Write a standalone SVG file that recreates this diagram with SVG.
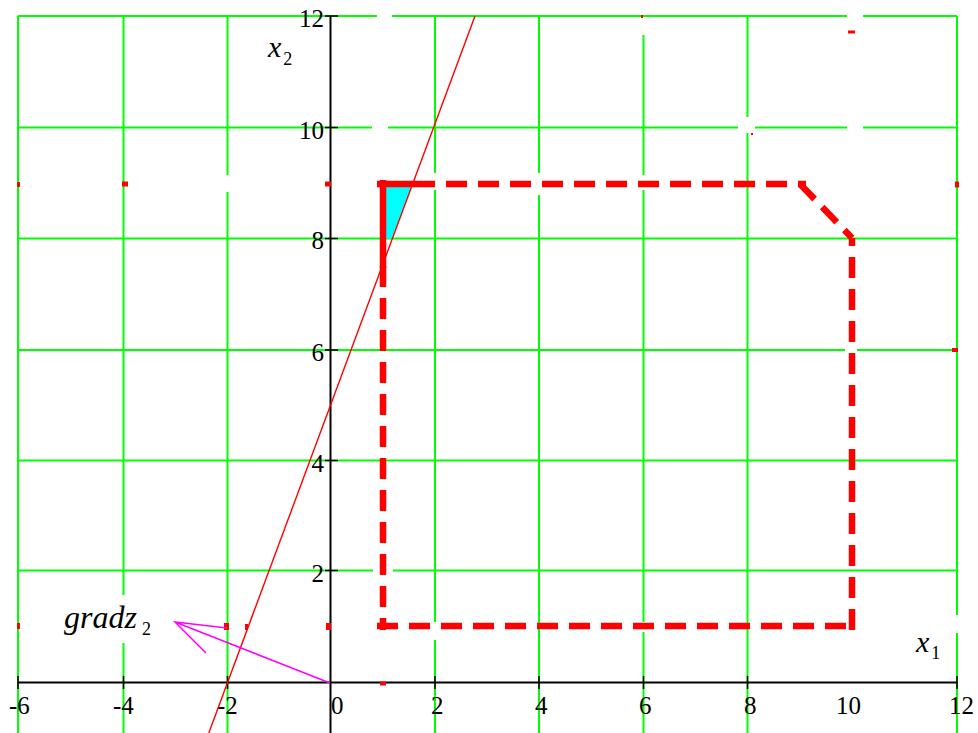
<svg xmlns="http://www.w3.org/2000/svg" width="978" height="733" viewBox="0 0 978 733">
<style>
.grid{stroke:#00ff00;stroke-width:2;fill:none}
.axis{stroke:#000;stroke-width:2;fill:none}
.tick{stroke:#000;stroke-width:1.5;fill:none}
.bound{stroke:#ff0000;stroke-width:6.5;fill:none;stroke-dasharray:21 11}
.solid{stroke:#ff0000;stroke-width:6.5;fill:none}
.thin{stroke:#ff0000;stroke-width:1.4;fill:none}
.grad{stroke:#ff00ff;stroke-width:1.5;fill:none}
.mark{fill:#ff0000}
.num{font-family:"Liberation Serif",serif;font-size:25px;fill:#000}
.var{font-family:"Liberation Serif",serif;font-size:30px;font-style:italic;fill:#000}
.sub{font-family:"Liberation Serif",serif;font-size:18px;font-style:normal}
</style>
<rect width="978" height="733" fill="#fff"/>
<g id="grid">
<path class="grid" d="M18,16V733 M123.5,16V595 M123.5,643V733 M227.5,16V175 M227.5,192V733 M435,16V173 M435,190V622 M435,640V733 M539,16V173 M539,195V733 M643.5,35V175 M643.5,190V622 M643.5,632V733 M747.5,16V117 M747.5,133V733 M957,16V615 M957,633V733"/>
<path class="grid" d="M18,16H377 M392,16H847 M863,16H957 M18,127.5H372 M388,127.5H738 M755,127.5H847 M863,127.5H957 M18,238.5H957 M18,350H845 M857,350H957 M18,460.5H957 M18,570.5H373 M393,570.5H957"/>
</g>
<g id="axes">
<path class="axis" d="M18,682.5H957 M330.5,16V733"/>
<path class="tick" d="M18,676V689 M123.5,676V689 M227.5,676V689 M435,676V689 M539,676V689 M643.5,676V689 M747.5,676V689 M957,676V689 M325,16H338 M325,127.5H338 M325,238.5H338 M325,350H338 M325,460.5H338 M325,570.5H338"/>
<text class="num" x="9" y="714">-6</text>
<text class="num" x="113" y="714">-4</text>
<text class="num" x="217" y="714">-2</text>
<text class="num" x="331" y="714">0</text>
<text class="num" x="431" y="714">2</text>
<text class="num" x="535" y="714">4</text>
<text class="num" x="639" y="714">6</text>
<text class="num" x="744" y="714">8</text>
<text class="num" x="836" y="714">10</text>
<text class="num" x="949" y="714">12</text>
<text class="num" x="324" y="27" text-anchor="end">12</text>
<text class="num" x="324" y="139" text-anchor="end">10</text>
<text class="num" x="324" y="249" text-anchor="end">8</text>
<text class="num" x="324" y="361" text-anchor="end">6</text>
<text class="num" x="324" y="472" text-anchor="end">4</text>
<text class="num" x="324" y="582" text-anchor="end">2</text>
</g>
<g id="marks">
<rect class="mark" x="17" y="182" width="3" height="5"/>
<rect class="mark" x="122" y="181.5" width="6" height="5"/>
<rect class="mark" x="325" y="181.5" width="6" height="5"/>
<rect class="mark" x="955" y="181.5" width="4" height="6"/>
<rect class="mark" x="952" y="348" width="6" height="4"/>
<rect class="mark" x="641" y="15" width="2" height="3"/>
<rect class="mark" x="848" y="30.5" width="7" height="3"/>
<rect class="mark" x="751" y="133" width="2" height="2"/>
<rect class="mark" x="17" y="623" width="3" height="6"/>
<rect class="mark" x="224" y="623" width="5" height="7"/>
<rect class="mark" x="245" y="624" width="3" height="6"/>
<rect class="mark" x="326" y="623" width="5" height="7"/>
<rect class="mark" x="380" y="681.5" width="6" height="4"/>
</g>
<g id="feasible-region">
<polygon points="383,184 412.5,184 392.3,238.5 383,238.5" fill="#00ffff"/>
</g>
<g id="constraint-box">
<path class="bound" d="M383,266V630"/>
<path class="bound" d="M377,626H852"/>
<path class="bound" d="M852,630V238"/>
<path class="bound" d="M800,184L852,238"/>
<path class="bound" d="M414,184H806"/>
<path class="solid" d="M377,184H414 M383,180V268"/>
</g>
<g id="constraint-line">
<path class="thin" d="M475,16L208.8,733"/>
</g>
<g id="gradient">
<path class="grad" d="M330,683L175,622 M227,628L175,622L206,653"/>
<text class="var" x="64" y="628" style="font-size:32px">gradz<tspan class="sub" dx="5" dy="7">2</tspan></text>
</g>
<g id="labels">
<text class="var" x="268" y="57">x<tspan class="sub" dx="2" dy="8">2</tspan></text>
<text class="var" x="916" y="652">x<tspan class="sub" dx="2" dy="7">1</tspan></text>
</g>
</svg>
